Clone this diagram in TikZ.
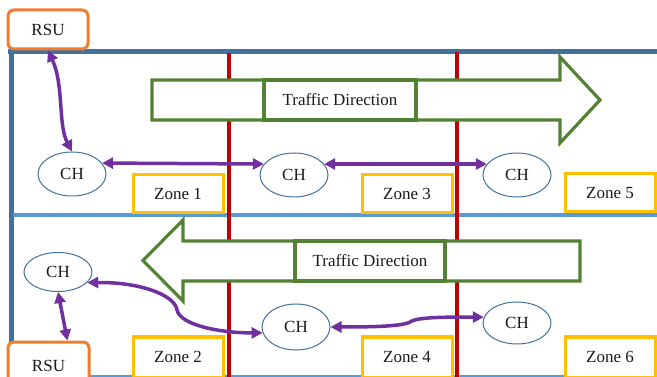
\documentclass[tikz,border=0pt]{standalone}
\usepackage{fontspec}
\setmainfont{Liberation Serif}
\usepackage{tikz}
\usetikzlibrary{calc,arrows.meta,shapes.geometric}
\definecolor{road}{HTML}{41719C}
\definecolor{lane}{HTML}{5B9BD5}
\definecolor{cut}{HTML}{C00000}
\definecolor{flow}{HTML}{548235}
\definecolor{gold}{HTML}{FFC000}
\definecolor{rsuc}{HTML}{ED7D31}
\definecolor{plum}{HTML}{7030A0}
\definecolor{ink}{HTML}{1A1A1A}
\tikzset{
  edge/.style={draw=road, line width=5pt},
  mid/.style={draw=lane, line width=4pt},
  border/.style={draw=cut, line width=4.5pt},
  arr/.style={draw=flow, fill=white, line width=3.2pt, line join=miter},
  lab/.style={text=ink, font=\fontsize{17}{20}\selectfont, inner sep=0pt},
  tdir/.style={lab, draw=flow, fill=white, line width=3.2pt, minimum height=40pt},
  zone/.style={lab, draw=gold, fill=white, line width=3pt, minimum width=90pt, minimum height=38pt},
  ch/.style={lab, ellipse, draw=road, fill=white, line width=1pt, minimum width=68pt, minimum height=44pt},
  rsu/.style={lab, draw=rsuc, fill=white, line width=3pt, rounded corners=6pt, minimum width=80pt},
  link/.style={draw=plum, line width=3.5pt, {Triangle[length=11pt,width=11pt]}-{Triangle[length=11pt,width=11pt]}},
}
\begin{document}
\begin{tikzpicture}[x=1pt,y=-1pt]
  \useasboundingbox (0,0) rectangle (657,377);
  % road
  \draw[edge] (8,52) -- (657,52);
  \draw[edge] (11,52) -- (11,377);
  \draw[mid] (13,215) -- (657,215);
  \draw[draw=lane, line width=1.2pt] (89,376) -- (657,376);
  \draw[border] (229,53) -- (229,377);
  \draw[border] (457,52) -- (457,377);
  % traffic arrows
  \draw[arr] (152,80) -- (560,80) -- (560,57) -- (600,100) -- (560,143) -- (560,120) -- (152,120) -- cycle;
  \node[tdir, minimum width=152pt] (dirA) at (340,100) {Traffic Direction};
  \draw[arr] (580,241) -- (183,241) -- (183,220) -- (143,260.5) -- (183,301) -- (183,281) -- (580,281) -- cycle;
  \node[tdir, minimum width=150pt] (dirB) at (370,261) {Traffic Direction};
  % zones
  \node[zone] (z1) at (178,194) {Zone 1};
  \node[zone] (z3) at (407,194) {Zone 3};
  \node[zone] (z5) at (610,193) {Zone 5};
  \node[zone, minimum height=40pt] (z2) at (178,357) {Zone 2};
  \node[zone, minimum height=40pt] (z4) at (407,357) {Zone 4};
  \node[zone, minimum height=40pt] (z6) at (610,357) {Zone 6};
  % cluster heads and road side units
  \node[ch] (chA) at (72,174) {CH};
  \node[ch] (chB) at (294,175) {CH};
  \node[ch] (chC) at (517,175) {CH};
  \node[ch, minimum height=39pt] (chD) at (58,272) {CH};
  \node[ch, minimum height=46pt] (chE) at (296,327) {CH};
  \node[ch, minimum height=42pt] (chF) at (517,323) {CH};
  \node[rsu, minimum height=39pt] (rsuA) at (48,29.5) {RSU};
  \node[rsu, minimum height=48pt, minimum width=81pt] (rsuB) at (48.5,366) {RSU};
  % links
  \draw[link] (rsuA.south) .. controls (64,85) and (58,125) .. (chA.north);
  \draw[link] (chA.20) -- (chB.160);
  \draw[link] (chB.20) -- (chC.160);
  \draw[link] (chD.south) -- ($(rsuB.north)!0.45!(rsuB.north east)$);
  \draw[link] (chD.-20) .. controls (140,282) and (175,295) .. (177,310)
    .. controls (180,325) and (220,333) .. (chE.190);
  \draw[link] (chE.east) .. controls (380,327) and (405,326) .. (412,321)
    .. controls (420,317) and (450,317) .. (chF.170);
\end{tikzpicture}
\end{document}
